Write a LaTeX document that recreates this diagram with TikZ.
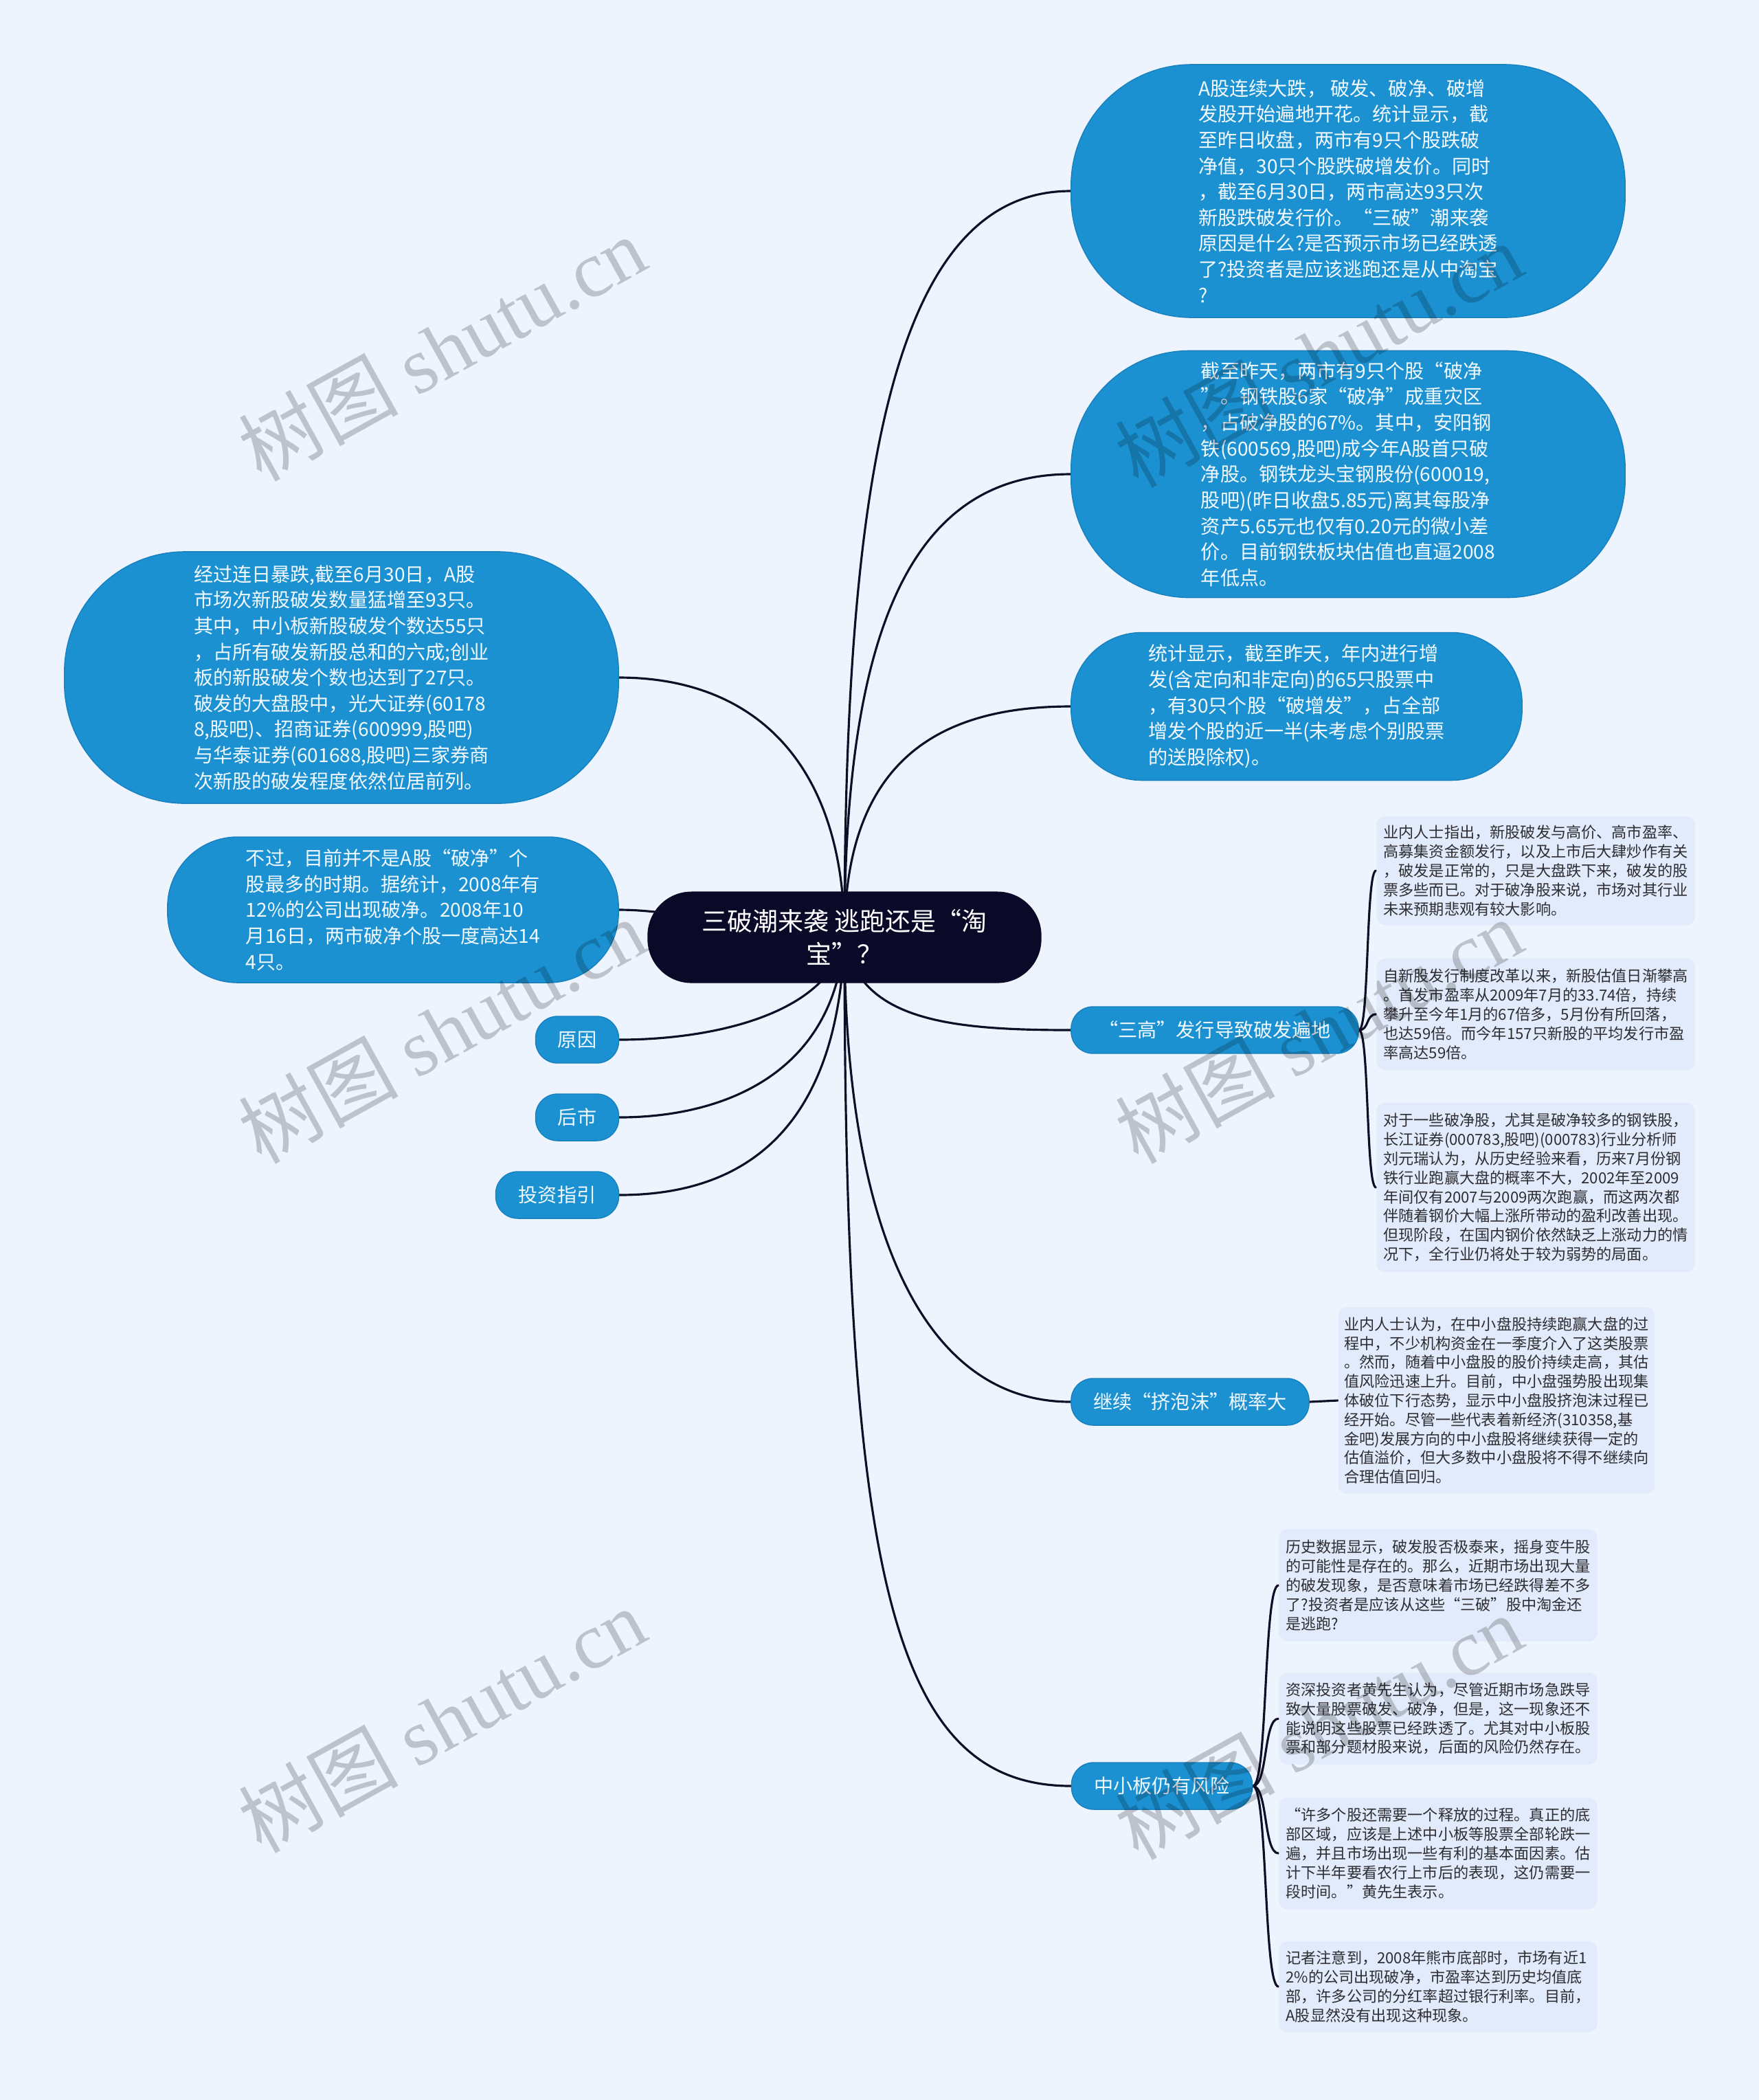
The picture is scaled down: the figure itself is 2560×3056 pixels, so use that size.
\documentclass[tikz,border=0pt]{standalone}
\usepackage{fontspec}
\setmainfont{Noto Sans CJK SC}
\newfontfamily\markfont{Liberation Serif}

\definecolor{bgcol}{RGB}{238,244,254}
\definecolor{topicblue}{RGB}{27,145,210}
\definecolor{topicedge}{RGB}{24,128,190}
\definecolor{topictext}{RGB}{242,249,255}
\definecolor{rootcol}{RGB}{11,9,40}
\definecolor{linkcol}{RGB}{14,14,38}
\definecolor{notefill}{RGB}{226,235,251}
\definecolor{notetext}{RGB}{45,45,50}

\pgfdeclarelayer{back}
\pgfdeclarelayer{lines}
\pgfsetlayers{back,lines,main}

\begin{document}
\begin{tikzpicture}[x=0.01cm, y=-0.01cm,
    link/.style={draw=linkcol, line width=0.9pt, line cap=round},
    topic/.style={fill=topicblue, draw=topicedge, line width=0.4pt, text=topictext, align=left, inner sep=0pt, font=\fontsize{8pt}{10.7pt}\selectfont},
    branch/.style={topic, minimum height=0.68cm, rounded corners=0.32cm},
    rootnode/.style={fill=rootcol, text=white, align=center, inner sep=0pt, font=\fontsize{10.5pt}{13.8pt}\selectfont},
    note/.style={fill=notefill, rounded corners=0.12cm, text=notetext, align=left, inner sep=0pt, minimum width=4.63cm, font=\fontsize{6.3pt}{7.9pt}\selectfont},
    wmark/.style={rotate=29, text=black, text opacity=0.2, inner sep=0pt, font=\fontsize{33pt}{33pt}\selectfont}
  ]
    \useasboundingbox (0,0) rectangle (2560,3056);
    \begin{pgfonlayer}{back}
        \fill[bgcol] (0,0) rectangle (2560,3056);
    \end{pgfonlayer}

    \node[rootnode, minimum width=5.73cm, minimum height=1.33cm, rounded corners=0.64cm] (root) at (1229,1364) {三破潮来袭 逃跑还是“淘\\宝”？};

    \node[topic, minimum width=8.06cm, minimum height=3.68cm, rounded corners=1.76cm] (sanpo) at (1962,278) {A股连续大跌， 破发、破净、破增\\
发股开始遍地开花。统计显示，截\\
至昨日收盘，两市有9只个股跌破\\
净值，30只个股跌破增发价。同时\\
，截至6月30日，两市高达93只次\\
新股跌破发行价。“三破”潮来袭\\
原因是什么?是否预示市场已经跌透\\
了?投资者是应该逃跑还是从中淘宝\\
?};
    \node[topic, minimum width=8.06cm, minimum height=3.59cm, rounded corners=1.72cm] (gangtie) at (1962,690) {截至昨天，两市有9只个股“破净\\
”。钢铁股6家“破净”成重灾区\\
，占破净股的67\%。其中，安阳钢\\
铁(600569,股吧)成今年A股首只破\\
净股。钢铁龙头宝钢股份(600019,\\
股吧)(昨日收盘5.85元)离其每股净\\
资产5.65元也仅有0.20元的微小差\\
价。目前钢铁板块估值也直逼2008\\
年低点。};
    \node[topic, minimum width=6.56cm, minimum height=2.15cm, rounded corners=1.03cm] (zengfa) at (1887,1028) {统计显示，截至昨天，年内进行增\\
发(含定向和非定向)的65只股票中\\
，有30只个股“破增发”，占全部\\
增发个股的近一半(未考虑个别股票\\
的送股除权)。};
    \node[topic, minimum width=8.06cm, minimum height=3.66cm, rounded corners=1.75cm] (cixin) at (497,986) {经过连日暴跌,截至6月30日，A股\\
市场次新股破发数量猛增至93只。\\
其中，中小板新股破发个数达55只\\
，占所有破发新股总和的六成;创业\\
板的新股破发个数也达到了27只。\\
破发的大盘股中，光大证券(60178\\
8,股吧)、招商证券(600999,股吧)\\
与华泰证券(601688,股吧)三家券商\\
次新股的破发程度依然位居前列。};
    \node[topic, minimum width=6.56cm, minimum height=2.12cm, rounded corners=1.02cm] (pojing) at (572,1324) {不过，目前并不是A股“破净”个\\
股最多的时期。据统计，2008年有\\
12\%的公司出现破净。2008年10\\
月16日，两市破净个股一度高达14\\
4只。};

    \node[branch, minimum width=1.21cm] (yuanyin) at (840,1513) {原因};
    \node[branch, minimum width=1.21cm] (houshi) at (840,1626) {后市};
    \node[branch, minimum width=1.79cm] (zhiyin) at (811,1739) {投资指引};
    \node[branch, minimum width=4.18cm] (sangao) at (1768,1499) {“三高”发行导致破发遍地};
    \node[branch, minimum width=3.46cm] (paomo) at (1732,2040) {继续“挤泡沫”概率大};
    \node[branch, minimum width=2.63cm] (zhongxiao) at (1691,2599) {中小板仍有风险};

    \node[note, minimum height=1.58cm] (gao1) at (2235,1267) {业内人士指出，新股破发与高价、高市盈率、\\
高募集资金额发行，以及上市后大肆炒作有关\\
，破发是正常的，只是大盘跌下来，破发的股\\
票多些而已。对于破净股来说，市场对其行业\\
未来预期悲观有较大影响。};
    \node[note, minimum height=1.62cm] (gao2) at (2235,1476) {自新股发行制度改革以来，新股估值日渐攀高\\
。首发市盈率从2009年7月的33.74倍，持续\\
攀升至今年1月的67倍多，5月份有所回落，\\
也达59倍。而今年157只新股的平均发行市盈\\
率高达59倍。};
    \node[note, minimum height=2.46cm] (gao3) at (2235,1728) {对于一些破净股，尤其是破净较多的钢铁股，\\
长江证券(000783,股吧)(000783)行业分析师\\
刘元瑞认为，从历史经验来看，历来7月份钢\\
铁行业跑赢大盘的概率不大，2002年至2009\\
年间仅有2007与2009两次跑赢，而这两次都\\
伴随着钢价大幅上涨所带动的盈利改善出现。\\
但现阶段，在国内钢价依然缺乏上涨动力的情\\
况下，全行业仍将处于较为弱势的局面。};
    \node[note, minimum width=4.60cm, minimum height=2.71cm] (pao1) at (2178,2038) {业内人士认为，在中小盘股持续跑赢大盘的过\\
程中，不少机构资金在一季度介入了这类股票\\
。然而，随着中小盘股的股价持续走高，其估\\
值风险迅速上升。目前，中小盘强势股出现集\\
体破位下行态势，显示中小盘股挤泡沫过程已\\
经开始。尽管一些代表着新经济(310358,基\\
金吧)发展方向的中小盘股将继续获得一定的\\
估值溢价，但大多数中小盘股将不得不继续向\\
合理估值回归。};
    \node[note, minimum height=1.63cm] (feng1) at (2093,2307) {历史数据显示，破发股否极泰来，摇身变牛股\\
的可能性是存在的。那么，近期市场出现大量\\
的破发现象，是否意味着市场已经跌得差不多\\
了?投资者是应该从这些“三破”股中淘金还\\
是逃跑?};
    \node[note, minimum height=1.33cm] (feng2) at (2093,2501) {资深投资者黄先生认为，尽管近期市场急跌导\\
致大量股票破发、破净，但是，这一现象还不\\
能说明这些股票已经跌透了。尤其对中小板股\\
票和部分题材股来说，后面的风险仍然存在。};
    \node[note, minimum height=1.62cm] (feng3) at (2093,2697) {“许多个股还需要一个释放的过程。真正的底\\
部区域，应该是上述中小板等股票全部轮跌一\\
遍，并且市场出现一些有利的基本面因素。估\\
计下半年要看农行上市后的表现，这仍需要一\\
段时间。”黄先生表示。};
    \node[note, minimum height=1.32cm] (feng4) at (2093,2891) {记者注意到，2008年熊市底部时，市场有近1\\
2\%的公司出现破净，市盈率达到历史均值底\\
部，许多公司的分红率超过银行利率。目前，\\
A股显然没有出现这种现象。};

    \begin{pgfonlayer}{lines}
        \draw[link] (root.center) .. controls +(0,-700) and +(-250,0) .. (sanpo.west);
        \draw[link] (root.center) .. controls +(0,-450) and +(-230,0) .. (gangtie.west);
        \draw[link] (root.center) .. controls +(0,-250) and +(-200,0) .. (zengfa.west);
        \draw[link] (root.center) .. controls +(20,120) and +(-180,0) .. (sangao.west);
        \draw[link] (root.center) .. controls +(0,390) and +(-230,0) .. (paomo.west);
        \draw[link] (root.center) .. controls +(0,930) and +(-260,0) .. (zhongxiao.west);
        \draw[link] (root.center) .. controls +(0,-250) and +(200,0) .. (cixin.east);
        \draw[link] (root.center) .. controls +(-100,0) and +(100,0) .. (pojing.east);
        \draw[link] (root.center) .. controls +(-20,110) and +(140,0) .. (yuanyin.east);
        \draw[link] (root.center) .. controls +(-15,200) and +(150,0) .. (houshi.east);
        \draw[link] (root.center) .. controls +(-10,320) and +(140,0) .. (zhiyin.east);

        \draw[link] (sangao.east) .. controls +(15,0) and +(-15,0) .. (gao1.west);
        \draw[link] (sangao.east) .. controls +(15,0) and +(-15,0) .. (gao2.west);
        \draw[link] (sangao.east) .. controls +(15,0) and +(-15,0) .. (gao3.west);
        \draw[link] (paomo.east) -- (pao1.west);
        \draw[link] (zhongxiao.east) .. controls +(22,0) and +(-22,0) .. (feng1.west);
        \draw[link] (zhongxiao.east) .. controls +(22,0) and +(-22,0) .. (feng2.west);
        \draw[link] (zhongxiao.east) .. controls +(22,0) and +(-22,0) .. (feng3.west);
        \draw[link] (zhongxiao.east) .. controls +(22,0) and +(-22,0) .. (feng4.west);
    \end{pgfonlayer}

    \foreach \wx/\wy [count=\i] in {643/507, 1919/516, 643/1500, 1919/1500, 643/2503, 1919/2513}
        \node[wmark] (wm\i) at (\wx,\wy) {树图 {\markfont shutu.cn}};
\end{tikzpicture}
\end{document}
